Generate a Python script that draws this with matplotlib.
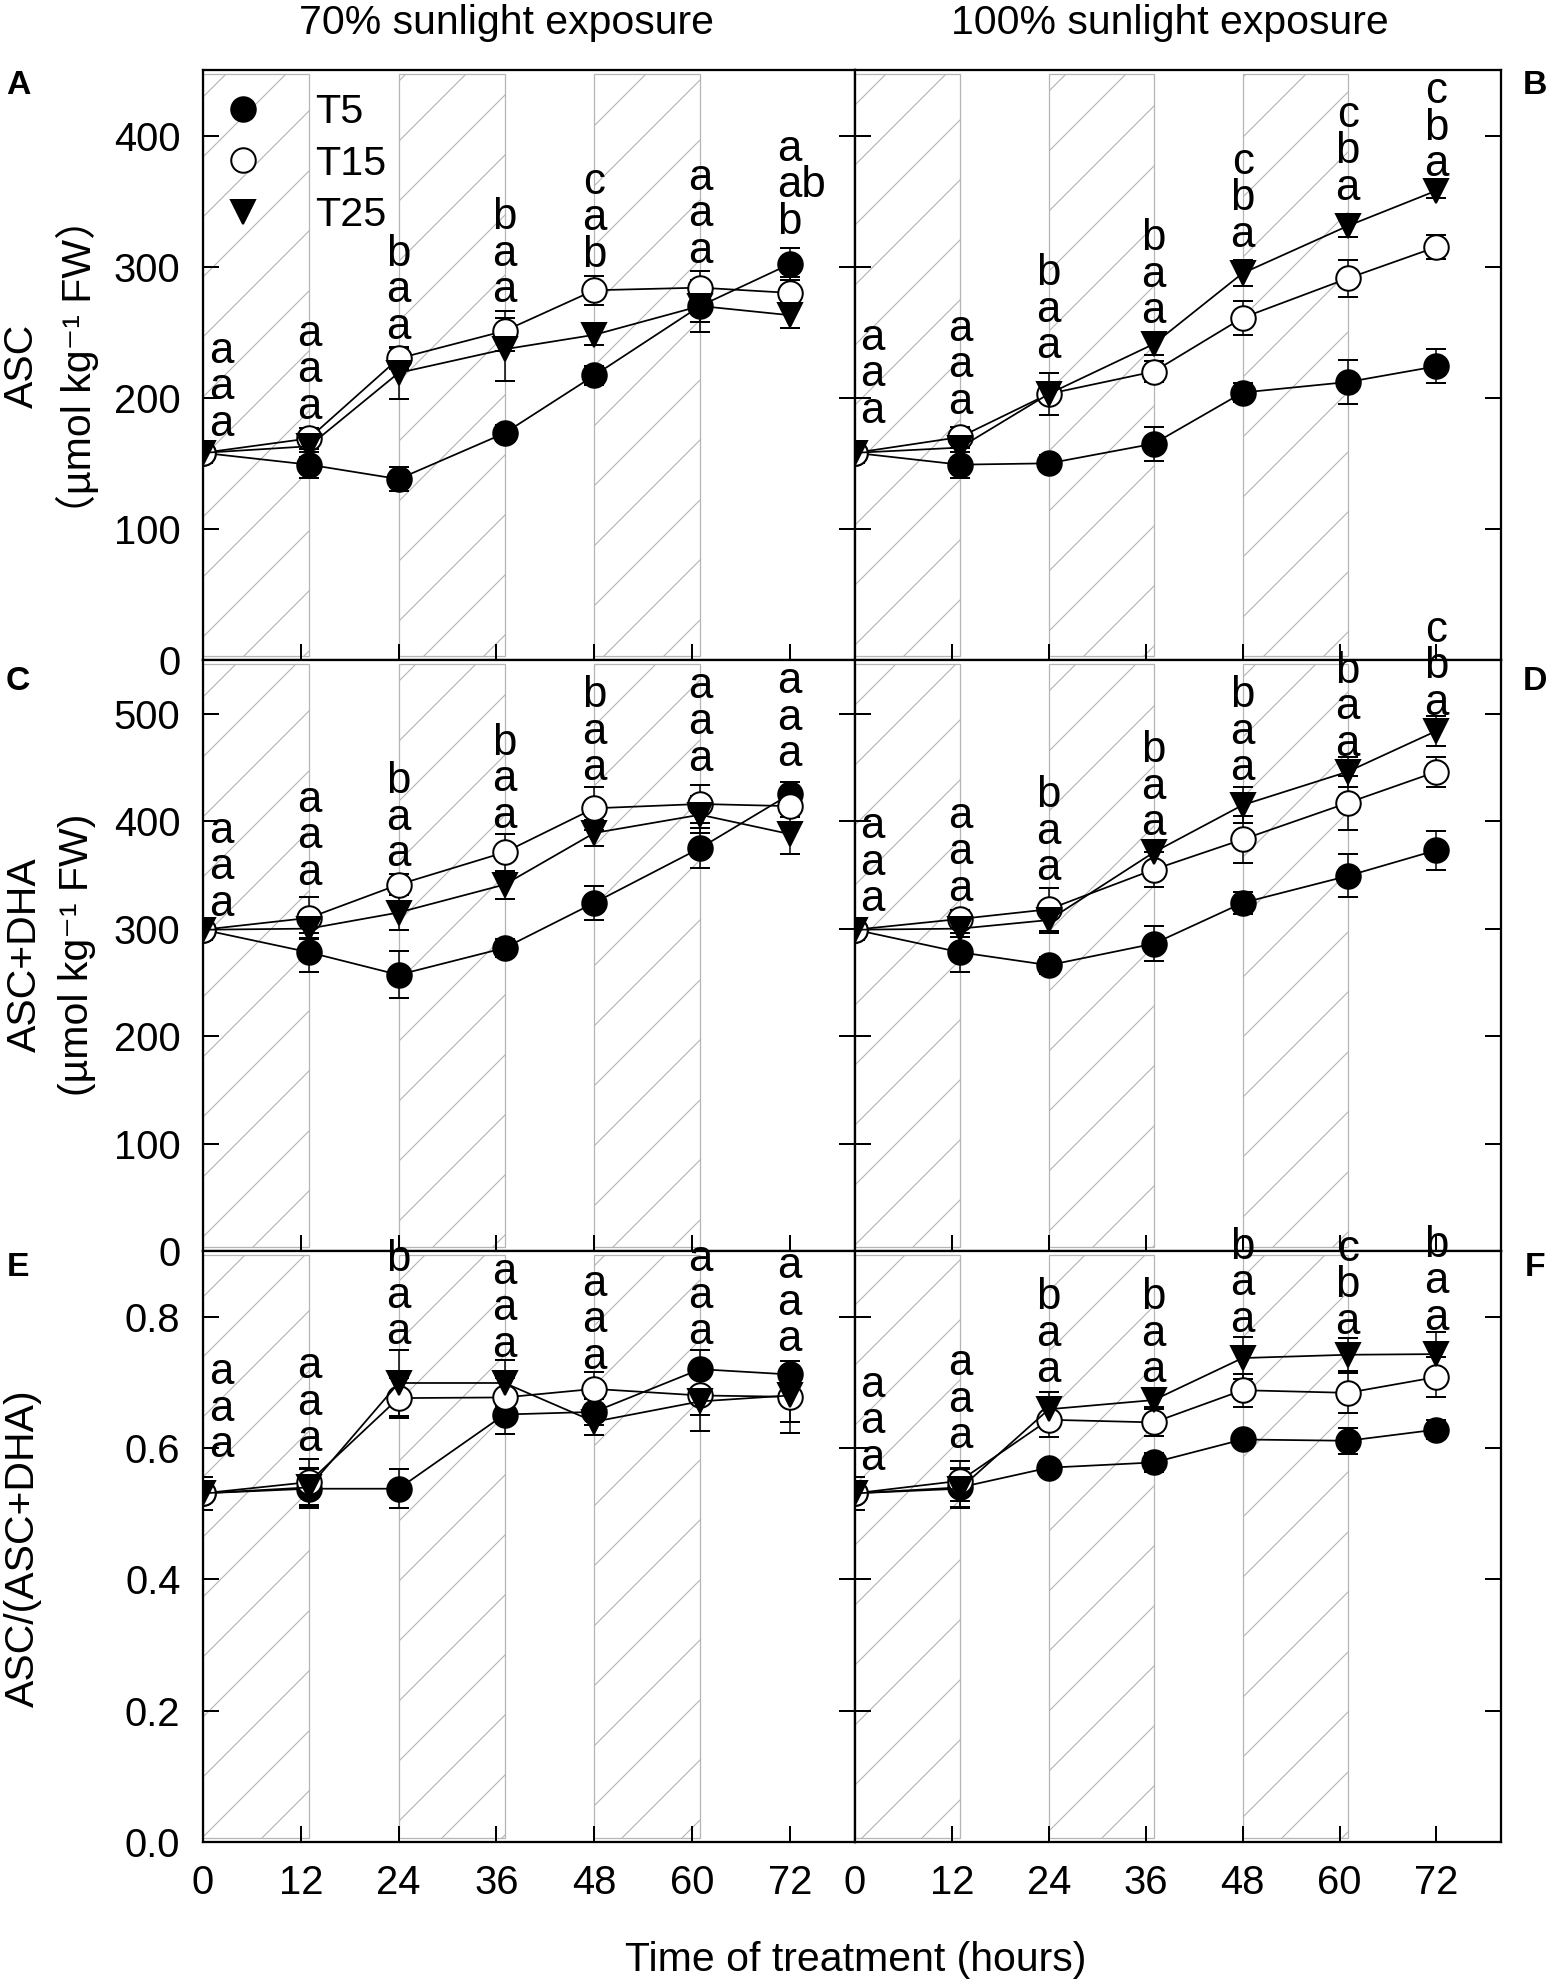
# Ascorbate content under two sunlight levels and three temperatures (panels A-F)
import matplotlib
matplotlib.use("Agg")
import matplotlib.pyplot as plt
from matplotlib.lines import Line2D
from matplotlib.ticker import FormatStrFormatter

plt.rcParams['font.family'] = ['Liberation Sans', 'DejaVu Sans', 'Noto Sans CJK SC']
plt.rcParams['hatch.linewidth'] = 0.45

# ---- data ----
hours = [0, 13, 24, 37, 48, 61, 72]
night_periods = [(0, 13), (24, 37), (48, 61)]
series_names = ['T5', 'T15', 'T25']

# ASC, 70% sunlight (A)
asc70_t5 = [158, 149, 138, 173, 217, 270, 302]
asc70_t15 = [158, 169, 230, 251, 282, 284, 280]
asc70_t25 = [158, 163, 219, 237, 248, 270, 263]
asc70_t5_err = [8, 10, 9, 6, 7, 12, 12]
asc70_t15_err = [8, 8, 8, 15, 11, 13, 12]
asc70_t25_err = [8, 8, 20, 24, 8, 20, 10]

# ASC, 100% sunlight (B)
asc100_t5 = [158, 149, 150, 165, 204, 212, 224]
asc100_t15 = [158, 170, 203, 220, 261, 291, 315]
asc100_t25 = [158, 162, 203, 241, 295, 331, 358]
asc100_t5_err = [8, 10, 6, 13, 7, 17, 13]
asc100_t15_err = [8, 8, 6, 8, 13, 14, 9]
asc100_t25_err = [8, 8, 16, 8, 10, 8, 6]

# ASC+DHA, 70% sunlight (C)
tot70_t5 = [299, 278, 257, 282, 324, 375, 425]
tot70_t15 = [299, 310, 341, 371, 412, 416, 414]
tot70_t25 = [299, 300, 315, 341, 389, 406, 388]
tot70_t5_err = [10, 18, 22, 8, 16, 19, 11]
tot70_t15_err = [10, 19, 10, 17, 20, 18, 10]
tot70_t25_err = [10, 10, 16, 13, 12, 17, 19]

# ASC+DHA, 100% sunlight (D)
tot100_t5 = [299, 278, 266, 286, 324, 349, 373]
tot100_t15 = [299, 309, 318, 355, 383, 417, 446]
tot100_t25 = [299, 300, 308, 371, 415, 446, 484]
tot100_t5_err = [10, 18, 8, 16, 10, 20, 18]
tot100_t15_err = [10, 8, 20, 16, 22, 25, 14]
tot100_t25_err = [10, 8, 12, 10, 17, 14, 14]

# ASC/(ASC+DHA), 70% sunlight (E)
ratio70_t5 = [0.531, 0.538, 0.538, 0.651, 0.655, 0.720, 0.712]
ratio70_t15 = [0.531, 0.548, 0.676, 0.677, 0.690, 0.680, 0.678]
ratio70_t25 = [0.531, 0.540, 0.699, 0.699, 0.640, 0.671, 0.680]
ratio70_t5_err = [0.025, 0.03, 0.03, 0.03, 0.02, 0.03, 0.02]
ratio70_t15_err = [0.025, 0.035, 0.03, 0.03, 0.025, 0.03, 0.055]
ratio70_t25_err = [0.025, 0.03, 0.05, 0.035, 0.02, 0.045, 0.04]

# ASC/(ASC+DHA), 100% sunlight (F)
ratio100_t5 = [0.531, 0.540, 0.570, 0.578, 0.613, 0.611, 0.628]
ratio100_t15 = [0.531, 0.550, 0.643, 0.639, 0.688, 0.684, 0.708]
ratio100_t25 = [0.531, 0.538, 0.659, 0.673, 0.737, 0.742, 0.743]
ratio100_t5_err = [0.025, 0.03, 0.01, 0.015, 0.01, 0.02, 0.015]
ratio100_t15_err = [0.025, 0.03, 0.027, 0.02, 0.025, 0.03, 0.03]
ratio100_t25_err = [0.025, 0.03, 0.027, 0.01, 0.032, 0.025, 0.034]

# significance letters, rows listed top to bottom, and the value where each stack starts
letters_a = ['aaa', 'aaa', 'baa', 'baa', 'cab', 'aaa', ['a', 'ab', 'b']]
letters_b = ['aaa', 'aaa', 'baa', 'baa', 'cba', 'cba', 'cba']
letters_c = ['aaa', 'aaa', 'baa', 'baa', 'baa', 'aaa', 'aaa']
letters_d = ['aaa', 'aaa', 'baa', 'baa', 'baa', 'baa', 'cba']
letters_e = ['aaa', 'aaa', 'baa', 'aaa', 'aaa', 'aaa', 'aaa']
letters_f = ['aaa', 'aaa', 'baa', 'baa', 'baa', 'cba', 'baa']
letters_a_base = [171, 184, 245, 273, 300, 303, 325]
letters_b_base = [181, 188, 230, 257, 315, 351, 369]
letters_c_base = [312, 341, 358, 394, 438, 447, 451]
letters_d_base = [316, 326, 345, 387, 438, 461, 499]
letters_e_base = [0.586, 0.595, 0.758, 0.739, 0.721, 0.758, 0.747]
letters_f_base = [0.567, 0.600, 0.700, 0.700, 0.777, 0.774, 0.780]

# ---- figure layout (pixel positions of the reference, dpi 180) ----
W, H = 1551, 1982
DPI = 180
fig = plt.figure(figsize=(W / DPI, H / DPI), dpi=DPI)

col_x = [(203, 855), (855, 1501)]
row_y = [(70, 660), (660, 1251), (1251, 1842)]


def make_axes(col, row):
    x0, x1 = col_x[col]
    y0, y1 = row_y[row]
    return fig.add_axes([x0 / W, 1 - y1 / H, (x1 - x0) / W, (y1 - y0) / H])


styles = [dict(marker='o', mfc='black'),
          dict(marker='o', mfc='white'),
          dict(marker='v', mfc='black')]

LETTER_SIZE = 17.5
LETTER_STEP = 14.6  # points between stacked letters


def draw_panel(ax, values, errors, letters, bases, ylim, yticks, show_ylabels, show_xlabels):
    # night periods as hatched bands
    for start, end in night_periods:
        ax.axvspan(start, end, ymin=0.006, ymax=0.993, fill=False, hatch='/',
                   edgecolor='#b5b5b5', lw=0.5, zorder=0)
    for vals, errs, st in zip(values, errors, styles):
        ax.errorbar(hours, vals, yerr=errs, color='black', lw=0.7,
                    marker=st['marker'], mfc=st['mfc'], mec='black', mew=0.8,
                    ms=9.8, elinewidth=0.6, capsize=4, capthick=0.6, zorder=3)
    # letter stacks
    for i, (stack, base) in enumerate(zip(letters, bases)):
        x = hours[i] + (2.2 if i == 0 else 0)
        rows = list(stack)
        for k, row in enumerate(reversed(rows)):
            if len(row) > 1:
                ax.annotate(row, (x, base), xytext=(-0.28 * LETTER_SIZE, k * LETTER_STEP),
                            textcoords='offset points', ha='left', va='baseline',
                            fontsize=LETTER_SIZE, annotation_clip=False, zorder=5)
            else:
                ax.annotate(row, (x, base), xytext=(0, k * LETTER_STEP),
                            textcoords='offset points', ha='center', va='baseline',
                            fontsize=LETTER_SIZE, annotation_clip=False, zorder=5)
    ax.set_xlim(0, 80)
    ax.set_ylim(*ylim)
    ax.set_xticks([0, 12, 24, 36, 48, 60, 72])
    ax.set_yticks(yticks)
    ax.tick_params(axis='both', direction='in', length=6.4, width=0.8,
                   labelsize=16, pad=9)
    ax.tick_params(axis='y', left=True, right=True, labelleft=show_ylabels)
    ax.tick_params(axis='x', labelbottom=show_xlabels)
    for sp in ax.spines.values():
        sp.set_linewidth(0.9)


ax_a = make_axes(0, 0)
ax_b = make_axes(1, 0)
ax_c = make_axes(0, 1)
ax_d = make_axes(1, 1)
ax_e = make_axes(0, 2)
ax_f = make_axes(1, 2)

draw_panel(ax_a, [asc70_t5, asc70_t15, asc70_t25],
           [asc70_t5_err, asc70_t15_err, asc70_t25_err],
           letters_a, letters_a_base, (0, 450), [0, 100, 200, 300, 400], True, False)
draw_panel(ax_b, [asc100_t5, asc100_t15, asc100_t25],
           [asc100_t5_err, asc100_t15_err, asc100_t25_err],
           letters_b, letters_b_base, (0, 450), [0, 100, 200, 300, 400], False, False)
draw_panel(ax_c, [tot70_t5, tot70_t15, tot70_t25],
           [tot70_t5_err, tot70_t15_err, tot70_t25_err],
           letters_c, letters_c_base, (0, 550), [0, 100, 200, 300, 400, 500], True, False)
draw_panel(ax_d, [tot100_t5, tot100_t15, tot100_t25],
           [tot100_t5_err, tot100_t15_err, tot100_t25_err],
           letters_d, letters_d_base, (0, 550), [0, 100, 200, 300, 400, 500], False, False)
draw_panel(ax_e, [ratio70_t5, ratio70_t15, ratio70_t25],
           [ratio70_t5_err, ratio70_t15_err, ratio70_t25_err],
           letters_e, letters_e_base, (0, 0.9), [0, 0.2, 0.4, 0.6, 0.8], True, True)
draw_panel(ax_f, [ratio100_t5, ratio100_t15, ratio100_t25],
           [ratio100_t5_err, ratio100_t15_err, ratio100_t25_err],
           letters_f, letters_f_base, (0, 0.9), [0, 0.2, 0.4, 0.6, 0.8], False, True)
ax_e.yaxis.set_major_formatter(FormatStrFormatter('%.1f'))

# legend with markers only
handles = [Line2D([], [], ls='none', marker=st['marker'], mfc=st['mfc'], mec='black',
                  mew=0.8, ms=9.8) for st in styles]
ax_a.legend(handles, series_names, loc='upper left', bbox_to_anchor=(0.029, 0.961),
            frameon=False, fontsize=16.5, borderpad=0, borderaxespad=0,
            handlelength=1.0, handletextpad=1.25, labelspacing=0.33)

# column titles, panel letters, axis labels
fig.text(506 / W, 1 - 34 / H, '70% sunlight exposure', ha='center', va='baseline', fontsize=16.4)
fig.text(1170 / W, 1 - 34 / H, '100% sunlight exposure', ha='center', va='baseline', fontsize=16.4)
for lab, (px, py) in zip('ABCDEF', [(18, 86), (1535, 86), (18, 682), (1535, 681),
                                    (18, 1268), (1535, 1267)]):
    fig.text(px / W, 1 - py / H, lab, ha='center', va='center', fontsize=13.5, fontweight='bold')

fig.text(51 / W, 1 - 366 / H, 'ASC\n（µmol kg⁻¹ FW）', rotation=90, ha='center', va='center',
         multialignment='center', fontsize=16.4, linespacing=1.45)
fig.text(51 / W, 1 - 955 / H, 'ASC+DHA\n(µmol kg⁻¹ FW)', rotation=90, ha='center', va='center',
         multialignment='center', fontsize=16.4, linespacing=1.5)
fig.text(23 / W, 1 - 1548 / H, 'ASC/(ASC+DHA)', rotation=90, ha='center', va='center',
         fontsize=16.4)
fig.text(856 / W, 1 - 1971 / H, 'Time of treatment (hours)', ha='center', va='baseline',
         fontsize=16.4)

fig.savefig('out.png', dpi=DPI)
